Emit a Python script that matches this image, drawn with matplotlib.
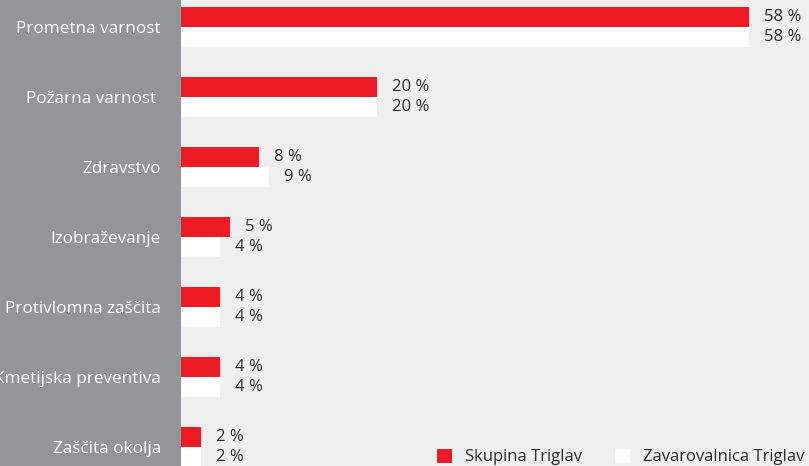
import numpy as np
import matplotlib
matplotlib.use("Agg")
import matplotlib.pyplot as plt
from matplotlib.patches import Patch

plt.rcParams['font.family'] = ['Open Sans', 'DejaVu Sans']

kategorije = ["Prometna varnost", "Požarna varnost ", "Zdravstvo", "Izobraževanje",
              "Protivlomna zaščita", "Kmetijska preventiva", "Zaščita okolja"]
skupina = np.array([58, 20, 8, 5, 4, 4, 2])
zavarovalnica = np.array([58, 20, 9, 4, 4, 4, 2])
serije = ["Skupina Triglav", "Zavarovalnica Triglav"]

rdeca = '#ed1c24'
bela = '#ffffff'
siva = '#939598'
ozadje = '#efefef'
besedilo = '#2b2b2b'

fig = plt.figure(figsize=(8.09, 4.66), dpi=100, facecolor=siva)
ax = fig.add_axes([181 / 809, 0, 628 / 809, 1])
ax.set_facecolor(ozadje)

y = np.arange(len(kategorije))
h = 0.29
b1 = ax.barh(y - h / 2, skupina, height=h, color=rdeca)
b2 = ax.barh(y + h / 2, zavarovalnica, height=h, color=bela)

for bars, vals in ((b1, skupina), (b2, zavarovalnica)):
    for bar, v in zip(bars, vals):
        ax.annotate(f"{v} %", (bar.get_width(), bar.get_y() + bar.get_height() / 2),
                    xytext=(15, 0), textcoords='offset pixels',
                    va='center', ha='left', fontsize=12, color=besedilo)

ax.set_xlim(0, 64.1)
ax.set_ylim(6.271, -0.386)
ax.set_yticks(y)
ax.set_yticklabels(kategorije, fontsize=12.3, color='white')
ax.tick_params(axis='y', length=0, pad=14.4)
ax.set_xticks([])
for s in ax.spines.values():
    s.set_visible(False)

handles = [Patch(facecolor=rdeca, edgecolor='none'), Patch(facecolor=bela, edgecolor='none')]
ax.legend(handles, serije, loc='lower right', bbox_to_anchor=(1.016, -0.031), ncol=2,
          frameon=False, fontsize=12, handlelength=0.9, handleheight=0.9,
          handletextpad=0.75, columnspacing=2.0, labelcolor=besedilo)

fig.savefig("out.png", dpi=100, facecolor=siva)
